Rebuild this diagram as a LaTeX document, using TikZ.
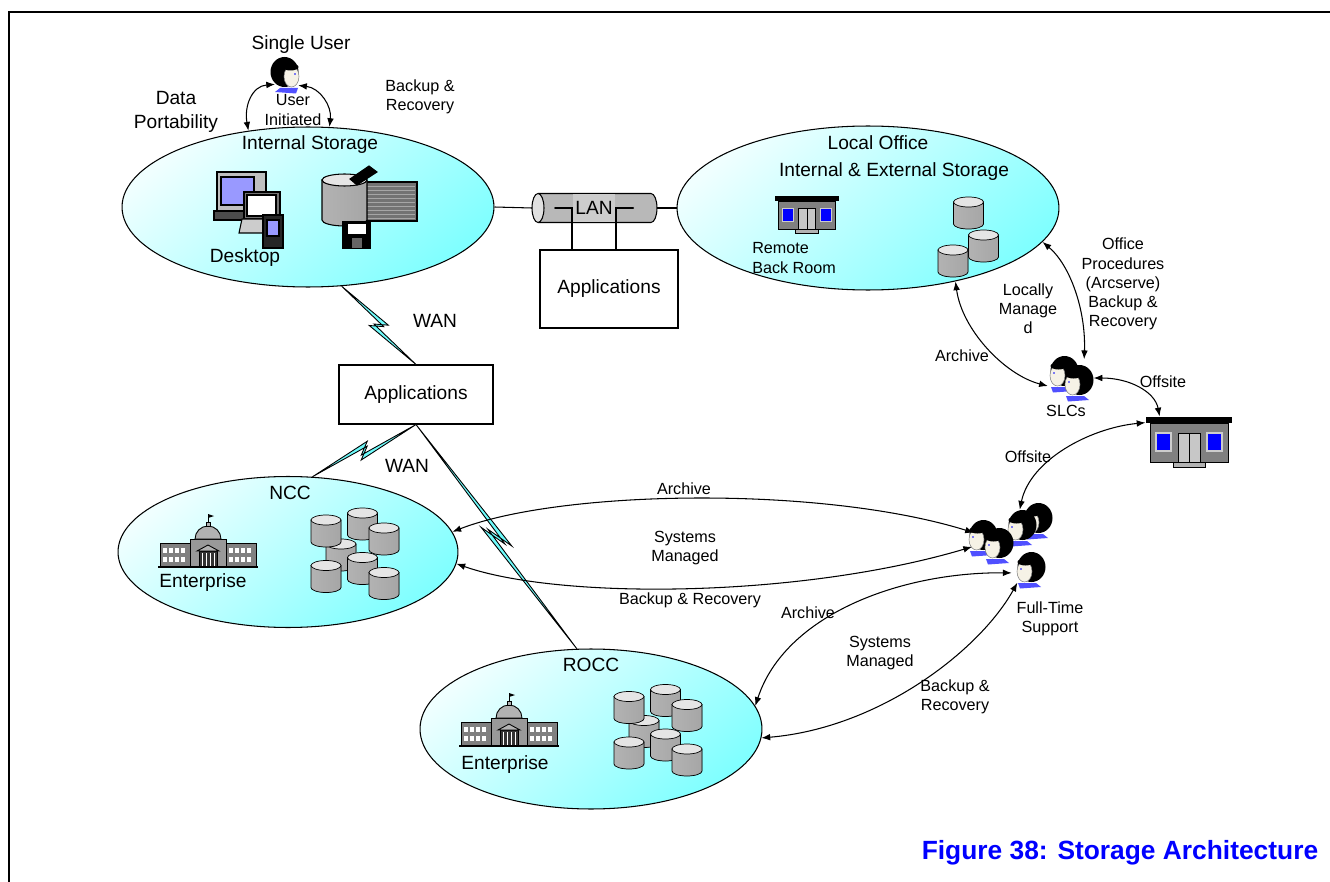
\documentclass[tikz,border=0pt]{standalone}
\usepackage{fontspec}
\setmainfont{Liberation Sans}
\usetikzlibrary{calc,shapes.geometric,arrows.meta}

\definecolor{sitecyan}{RGB}{128,255,255}
\definecolor{boltcyan}{RGB}{110,250,250}
\definecolor{screen}{RGB}{153,153,255}
\definecolor{skin}{RGB}{246,242,230}
\definecolor{collar}{RGB}{80,80,255}
\definecolor{winblue}{RGB}{0,0,255}

\def\biglbl{\fontsize{10.9pt}{13.6pt}\selectfont}
\def\smalllbl{\fontsize{9.2pt}{10.9pt}\selectfont}
% wan link: zigzag band from #1 to #2
\def\wanlink(#1)(#2){\filldraw[bolt] (#1) -- ($(#1)!0.56!(#2)!4pt!90:(#2)$) -- ($(#1)!0.46!(#2)!1.5pt!-90:(#2)$) -- (#2) -- ($(#1)!0.44!(#2)!4pt!-90:(#2)$) -- ($(#1)!0.54!(#2)!1.5pt!90:(#2)$) -- cycle;}

\tikzset{
  site/.style={ellipse, draw, line width=0.6pt, inner sep=0pt,
    top color=sitecyan!12!white, middle color=sitecyan!80!white, bottom color=sitecyan, shading angle=40},
  appbox/.style={draw, line width=0.6pt, fill=white, font=\biglbl},
  ttl/.style={font=\biglbl, align=center, inner sep=1pt},
  lbl/.style={font=\smalllbl, align=center, inner sep=1pt},
  spot/.style={circle, inner sep=0pt, minimum size=#1},
  link/.style={line width=0.6pt, {Latex[length=5pt,width=3.8pt]}-{Latex[length=5pt,width=3.8pt]}},
  bolt/.style={fill=boltcyan, draw=black, line width=0.5pt},
  % disk drum
  can/.pic={
    \filldraw[left color=black!30, middle color=black!6, right color=black!35, line width=0.4pt]
      (-15,-11) -- (-15,11) arc[start angle=180, end angle=0, x radius=15, y radius=5] -- (15,-11) -- cycle;
    \filldraw[fill=black!10, line width=0.4pt] (0,-11) ellipse (15 and 5);
  },
  dbstack/.pic={
    \pic at (-14,1.5) {can};
    \pic at (7.5,-29.5) {can};
    \pic at (-29,-22.5) {can};
    \pic at (29,-14.5) {can};
    \pic at (7.5,15) {can};
    \pic at (-29,23) {can};
    \pic at (29,30) {can};
  },
  % one person, looking left
  head/.pic={
    \fill[black] (2.5,-3) ellipse (14 and 15);
    \filldraw[fill=skin, draw=black!50, line width=0.3pt] (-4.5,1.5) ellipse (7.5 and 10.5);
    \fill[black] (-3.5,-8) ellipse (8 and 3.5);
    \fill[collar] (-11,13) -- (7,13) -- (12,17) -- (-9,18.5) -- cycle;
    \fill[winblue] (-8,-1) circle (0.9);
  },
  % small office building
  shop/.pic={
    \filldraw[fill=black!50, line width=0.5pt] (-39,-19) rectangle (39,20);
    \fill[black] (-43,-25) rectangle (43,-19);
    \filldraw[fill=black!30, line width=0.5pt] (-16,20) rectangle (16,25);
    \filldraw[fill=winblue, draw=black!20, line width=0.8pt] (-33,-9) rectangle (-18,9);
    \filldraw[fill=winblue, draw=black!20, line width=0.8pt] (18,-9) rectangle (33,9);
    \filldraw[fill=black!22, line width=0.5pt] (-11,-9) rectangle (11,20);
    \draw[line width=0.5pt] (0,-9) -- (0,20);
  },
  % domed government building
  capitol/.pic={
    \filldraw[fill=black!50, line width=0.5pt] (-48,-2) rectangle (48,22);
    \foreach \wy in {3,12} \foreach \wx in {-45,-39,-33,-27,21,27,33,39}
      \fill[white] (\wx,\wy) rectangle ++(4,5);
    \filldraw[fill=black!40, line width=0.5pt] (-18,-6) rectangle (18,22);
    \filldraw[fill=black!80, line width=0.5pt] (-9,6) rectangle (9,22);
    \foreach \wx in {-6,-2,2,6} \draw[white, line width=0.5pt] (\wx,8) -- (\wx,21);
    \filldraw[fill=black!30, line width=0.5pt] (-11,6) -- (0,0) -- (11,6) -- cycle;
    \filldraw[fill=black!30, line width=0.5pt] (-13,-6) arc[start angle=180, end angle=360, x radius=13, y radius=13] -- cycle;
    \filldraw[fill=black!30, line width=0.5pt] (-2,-23) rectangle (2,-19);
    \draw[line width=0.5pt] (0,-23) -- (0,-31);
    \fill (0,-31) -- (6,-29) -- (0,-27) -- cycle;
    \draw[line width=1.2pt] (-50,22) -- (50,22);
  }
}

\begin{document}
\begin{tikzpicture}[x=0.02cm, y=-0.02cm, line width=0.6pt]
\useasboundingbox (0,0) rectangle (1330,882);
\draw[line width=1.2pt] (9,882) -- (9,12) -- (1330,12);

% storage sites
\node[site, minimum width=7.44cm, minimum height=3.2cm] (int) at (308,207) {};
\node[site, minimum width=7.64cm, minimum height=3.28cm] (loc) at (868,208) {};
\node[site, minimum width=6.8cm, minimum height=3.02cm] (ncc) at (288,552) {};
\node[site, minimum width=6.84cm, minimum height=3.2cm] (rocc) at (591,729) {};

\node[ttl] (intname) at (310,145) {Internal Storage};
\node[ttl] (desk) at (245,258) {Desktop};
\node[ttl] (locname) at (878,143) {Local Office};
\node[ttl] (locstore) at (894,172) {Internal \& External Storage};
\node[lbl, align=left, anchor=west] (backroom) at (750,258) {Remote\\Back Room};
\node[ttl] (nccname) at (290,493) {NCC};
\node[ttl] (nccent) at (203,583) {Enterprise};
\node[ttl] (roccname) at (591,665) {ROCC};
\node[ttl] (roccent) at (505,765) {Enterprise};

% desktop pc, laptop and pda
\filldraw[fill=black!25] (217,172) rectangle (266,212);
\filldraw[fill=screen] (221,177) rectangle (254,205);
\filldraw[fill=black!70] (214,211) rectangle (250,220);
\filldraw[fill=black!55] (244,192) rectangle (280,219);
\filldraw[fill=white] (247,195) rectangle (276,216);
\filldraw[fill=black!20] (242,219) -- (277,219) -- (274,233) -- (239,233) -- cycle;
\filldraw[fill=black!85] (263,215) rectangle (283,248);
\filldraw[fill=screen] (267,220) rectangle (279,236);

% tape stack, disk and floppy
\filldraw[fill=black!55] (364,182) rectangle (417,221);
\foreach \y in {186,190,...,218} \draw[black!35, line width=0.3pt] (366,\y) -- (415,\y);
\filldraw[left color=black!30, middle color=black!6, right color=black!35]
  (322,180) -- (322,220) arc[start angle=180, end angle=0, x radius=22.5, y radius=6] -- (367,180) -- cycle;
\filldraw[fill=black!10] (344.5,180) ellipse (22.5 and 6);
\filldraw[fill=black] (343,222) rectangle (370,248);
\fill[white] (348,224) rectangle (366,234);
\fill[black!60] (352,238) rectangle (362,248);
\filldraw[fill=black] (350,179) -- (369,166) -- (377,172) -- (357,185) -- cycle;

% local office contents
\pic[scale=0.74] at (807,215) {shop};
\pic at (968.5,213) {can};
\pic at (983.5,246) {can};
\pic at (953,261) {can};

% data centres
\pic at (208,545) {capitol};
\pic at (355,553.5) {dbstack};
\pic at (509,724) {capitol};
\pic at (658,730) {dbstack};

% lan segment
\fill[black!28] (538,193.5) -- (651,193.5) arc[start angle=-90, end angle=90, x radius=6, y radius=14.5] -- (538,222.5) -- cycle;
\draw (538,193.5) -- (651,193.5) arc[start angle=-90, end angle=90, x radius=6, y radius=14.5] -- (538,222.5);
\filldraw[fill=black!12] (538,208) ellipse (6 and 14.5);
\node[ttl, fill=black!20, minimum width=0.86cm, minimum height=0.58cm, inner sep=0pt] (lan) at (594,208) {LAN};
\coordinate (lanL) at (532,208);
\coordinate (lanR) at (657,208);
\coordinate (tapA) at (555,208);
\coordinate (tapB) at (633,208);
\fill (tapA) circle (1);
\fill (tapB) circle (1);
\draw (int.east) -- (lanL);
\draw (lanR) -- (loc.west);

\node[appbox, minimum width=2.76cm, minimum height=1.56cm] (apps1) at (609,289) {Applications};
\draw (tapA) -- (lan.west) -- (lan.west |- apps1.north);
\draw (tapB) -- (lan.east) -- (lan.east |- apps1.north);

% wan links
\node[appbox, minimum width=3.08cm, minimum height=1.18cm] (apps2) at (416,394.5) {Applications};
\wanlink(int.-67)(apps2.north)
\wanlink(apps2.south)(ncc.72)
\wanlink(apps2.south)(rocc.100)
\node[ttl] (wan1) at (435,321) {WAN};
\node[ttl] (wan2) at (407,466) {WAN};

% people
\node[spot=0.56cm] (user) at (287,76) {};
\pic[xscale=-1] at (287,75) {head};
\node[ttl] (usertitle) at (301,45) {Single User};

\node[spot=0.92cm] (slc) at (1070,378) {};
\pic at (1062,374) {head};
\pic at (1077,383) {head};

\node[spot=0.72cm] (fts1) at (990,542) {};
\node[spot=0.64cm] (fts2) at (1028,524) {};
\node[spot=0.64cm] (fts3) at (1028,570) {};
\pic at (1036,521) {head};
\pic at (1020,528) {head};
\pic at (981,538) {head};
\pic at (997,546) {head};
\pic at (1029,570) {head};

\node[inner sep=0pt, minimum width=1.72cm, minimum height=1cm] (off) at (1189,442) {};
\pic at (off) {shop};

% single user
\draw[link] (user.215) .. controls (252,86) and (244,106) .. (int.128);
\draw[link] (user.-40) .. controls (320,88) and (332,106) .. (int.75);
\node[ttl] (portab) at (176,112) {Data\\Portability};
\node[lbl] (initiated) at (293,110) {User\\Initiated};
\node[lbl] (userbr) at (420,97) {Backup \&\\Recovery};

% local office support
\draw[link] (slc.200) .. controls (1005,375) and (962,330) .. (loc.-40);
\draw[link] (slc.53) .. controls (1086,310) and (1070,265) .. (loc.-11);
\draw[link] (slc.east) .. controls (1130,378) and (1155,392) .. (off.139);
\draw[link] (off.156) .. controls (1090,428) and (1030,460) .. (fts2.120);
\node[lbl] (archloc) at (962,356) {Archive};
\node[lbl] (locman) at (1028,309) {Locally\\Manage\\d};
\node[lbl] (offproc) at (1123,284) {Office\\Procedures\\(Arcserve)\\Backup \&\\Recovery};
\node[lbl] (slcname) at (1066,411) {SLCs};
\node[lbl] (offs1) at (1163,382) {Offsite};
\node[lbl] (offs2) at (1028,457) {Offsite};
\node[lbl] (ftsname) at (1050,619) {Full-Time\\Support};

% full-time support
\draw[link] (fts1.150) .. controls (820,485) and (560,490) .. (ncc.7);
\draw[link] (fts1.195) .. controls (800,598) and (560,600) .. (ncc.-4);
\draw[link] (fts3.190) .. controls (900,572) and (785,615) .. (rocc.8);
\draw[link] (fts3.230) .. controls (980,650) and (880,728) .. (rocc.-3);
\node[lbl] (nccarch) at (684,489) {Archive};
\node[lbl] (nccsys) at (685,548) {Systems\\Managed};
\node[lbl] (nccbr) at (690,600) {Backup \& Recovery};
\node[lbl] (roccarch) at (808,613) {Archive};
\node[lbl] (roccsys) at (880,653) {Systems\\Managed};
\node[lbl] (roccbr) at (955,697) {Backup \&\\Recovery};

\node[font=\fontsize{15pt}{18pt}\selectfont\bfseries, text=winblue] (caption) at (1120,853) {Figure 38: Storage Architecture};
\end{tikzpicture}
\end{document}
